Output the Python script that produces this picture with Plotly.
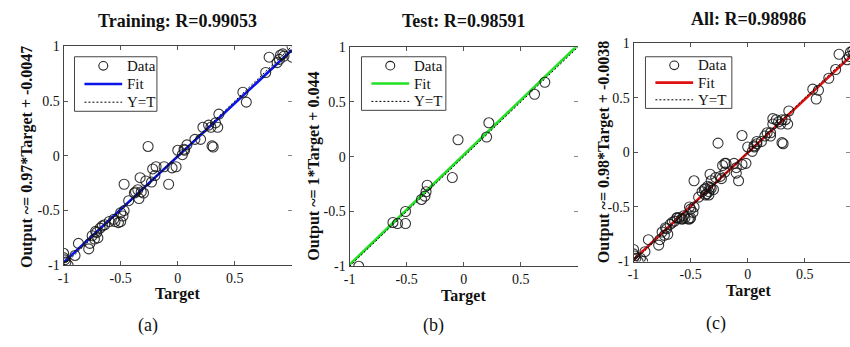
import plotly.graph_objects as go

# ---------------- data ----------------
train_target = [-1.00, -1.00, -0.98, -0.96, -0.99, -0.90, -0.87, -0.78, -0.77, -0.75, -0.72, -0.70,
                -0.68, -0.66, -0.64, -0.60, -0.55, -0.52, -0.50, -0.48, -0.47, -0.50, -0.47, -0.43,
                -0.38, -0.35, -0.34, -0.33, -0.32, -0.30, -0.28, -0.26, -0.22, -0.20, -0.19, -0.12,
                -0.08, -0.05, 0.00, 0.04, 0.06, 0.08, 0.15, 0.20, 0.22, 0.27, 0.29, 0.30, 0.31,
                0.33, 0.35, 0.36, 0.57, 0.60, 0.77, 0.80, 0.87, 0.89, 0.90, 0.92, 0.93, 1.00, 1.00,
                -0.73, -0.71, -0.56, -0.015, 0.055, -0.37, -0.23]
train_output = [-0.89, -0.93, -0.97, -1.00, -0.95, -0.91, -0.80, -0.85, -0.80, -0.73, -0.69, -0.75,
                -0.66, -0.64, -0.63, -0.60, -0.60, -0.61, -0.60, -0.55, -0.50, -0.52, -0.26, -0.41,
                -0.34, -0.31, -0.39, -0.20, -0.33, -0.34, -0.23, 0.085, -0.12, -0.18, -0.10, -0.10,
                -0.26, -0.11, 0.05, 0.01, 0.05, 0.10, 0.15, 0.15, 0.26, 0.28, 0.26, 0.09, 0.08,
                0.30, 0.26, 0.38, 0.58, 0.49, 0.76, 0.90, 0.85, 0.88, 0.92, 0.93, 0.91, 1.00, 0.90,
                -0.76, -0.70, -0.58, -0.10, 0.06, -0.33, -0.24]

test_target = [0.71, 0.62, 0.22, 0.20, -0.05, -0.10, -0.32, -0.33, -0.34, -0.37, -0.51, -0.51,
               -0.62, -0.58, -0.92]
test_output = [0.68, 0.57, 0.31, 0.18, 0.155, -0.19, -0.26, -0.32, -0.36, -0.39, -0.50, -0.61,
               -0.60, -0.61, -1.00]

val_target = [-0.94, -0.62, -0.57, -0.40, -0.36, -0.24, -0.20, -0.10, 0.08, 0.12, 0.17, 0.25, 0.30]
val_output = [-0.97, -0.60, -0.61, -0.36, -0.38, -0.22, -0.10, -0.14, 0.08, 0.10, 0.18, 0.30, 0.30]

all_target = train_target + test_target + val_target
all_output = train_output + test_output + val_output

# fit-line end points (from the fitted equations in the axis labels)
fit_x = [-1.0, 1.0]
fit_train_y = [-0.9747, 0.9653]
fit_test_y = [-0.985, 1.02]
fit_all_y = [-0.9838, 0.9762]
yt_x = [-1.0, 1.0]
yt_y = [-1.0, 1.0]

tick_vals = [-1, -0.5, 0, 0.5, 1]
x_tick_text = ['-1', '-0.5', '0', '0.5', '']
y_tick_text = ['-1', '-0.5', '0', '0.5', '1']

titles = ['Training: R=0.99053', 'Test: R=0.98591', 'All: R=0.98986']
ylabels = ['Output ~= 0.97*Target + -0.0047', 'Output ~= 1*Target + 0.044',
           'Output ~= 0.98*Target + -0.0038']
panel_tags = ['(a)', '(b)', '(c)']
legend_labels = ['Data', 'Fit', 'Y=T']
fit_colors = ['#0a14e6', '#22e022', '#e01010']

# ---------------- layout geometry (pixels) ----------------
W, H = 850, 347
SERIF = 'Liberation Serif'

panels = [
    dict(x0=58, x1=288, y_top=41, y_bot=270, xr=[-1, 1]),
    dict(x0=346, x1=576, y_top=42, y_bot=271, xr=[-1, 1]),
    dict(x0=632, x1=850, y_top=38, y_bot=266, xr=[-1, 0.896]),
]
title_pos = [(173, 15), (461, 15), (748, 13)]
xlab_pos = [(173, 300), (461, 302), (748, 297)]
ylab_pos = [(21, 157), (310, 166), (603, 152)]
tag_pos = [(143, 333), (431, 333), (715, 331)]
legend_box = [(69, 52, 152, 109), (358, 52, 443, 108), (644, 52, 731, 106)]


def px(x):
    return x / W


def py(y):
    return 1 - y / H


fig = go.Figure()

series = [
    (train_target, train_output, fit_train_y),
    (test_target, test_output, fit_test_y),
    (all_target, all_output, fit_all_y),
]

for i, (tx, ty, fy) in enumerate(series):
    n = i + 1
    xa = 'x' if n == 1 else f'x{n}'
    ya = 'y' if n == 1 else f'y{n}'
    ya_over = f'y{n + 3}'
    fig.add_trace(go.Scatter(x=fit_x, y=fy, mode='lines', name='Fit', showlegend=False,
                             line=dict(color=fit_colors[i], width=2.6),
                             xaxis=xa, yaxis=ya))
    fig.add_trace(go.Scatter(x=yt_x, y=yt_y, mode='lines', name='Y=T', showlegend=False,
                             line=dict(color='black', width=1, dash='2px,2px'),
                             xaxis=xa, yaxis=ya_over))
    fig.add_trace(go.Scatter(x=tx, y=ty, mode='markers', name='Data', showlegend=False,
                             marker=dict(symbol='circle-open', size=10,
                                         color='rgba(20,20,20,0.85)',
                                         line=dict(width=1.1)),
                             xaxis=xa, yaxis=ya))

layout = dict(width=W, height=H, margin=dict(l=0, r=0, t=0, b=0),
              paper_bgcolor='white', plot_bgcolor='white', showlegend=False,
              font=dict(family=SERIF, color='#111'))

axis_common = dict(ticks='inside', ticklen=4, tickcolor='#555', showgrid=False,
                   zeroline=False, tickvals=tick_vals,
                   tickfont=dict(family=SERIF, size=14, color='#111'))

annotations = []
shapes = []
for i, p in enumerate(panels):
    n = i + 1
    xk = 'xaxis' if n == 1 else f'xaxis{n}'
    yk = 'yaxis' if n == 1 else f'yaxis{n}'
    yo = f'yaxis{n + 3}'
    xa = 'x' if n == 1 else f'x{n}'
    ya = 'y' if n == 1 else f'y{n}'
    layout[xk] = dict(axis_common, domain=[px(p['x0']), min(1, px(p['x1']))], range=p['xr'],
                      anchor=ya, ticktext=x_tick_text, showline=True, linecolor='#444',
                      linewidth=1, mirror='ticks')
    layout[yk] = dict(axis_common, domain=[py(p['y_bot']), py(p['y_top'])], range=[-1, 1],
                      anchor=xa, ticktext=y_tick_text, showline=True, linecolor='#444',
                      linewidth=1, mirror=False)
    layout[yo] = dict(axis_common, range=[-1, 1], overlaying=ya, side='right', anchor=xa,
                      showticklabels=False, showline=False, tickcolor='#888')

    # ---- legend box (MATLAB style) ----
    bx0, by0, bx1, by1 = legend_box[i]
    shapes.append(dict(type='rect', xref='paper', yref='paper', x0=px(bx0), x1=px(bx1),
                       y0=py(by1), y1=py(by0), line=dict(color='#444', width=1),
                       fillcolor='white', layer='above'))
    row_h = (by1 - by0) / 3.0
    rows = [by0 + row_h * (k + 0.5) for k in range(3)]
    # Data marker
    cx, cy, r = bx0 + 29, rows[0], 4.5
    shapes.append(dict(type='circle', xref='paper', yref='paper', x0=px(cx - r), x1=px(cx + r),
                       y0=py(cy + r), y1=py(cy - r), line=dict(color='#222', width=1.1),
                       layer='above'))
    # Fit line
    shapes.append(dict(type='line', xref='paper', yref='paper', x0=px(bx0 + 10), x1=px(bx0 + 48),
                       y0=py(rows[1]), y1=py(rows[1]),
                       line=dict(color=fit_colors[i], width=2.6), layer='above'))
    # Y=T dotted line
    shapes.append(dict(type='line', xref='paper', yref='paper', x0=px(bx0 + 10), x1=px(bx0 + 48),
                       y0=py(rows[2]), y1=py(rows[2]),
                       line=dict(color='black', width=1, dash='2px,2px'), layer='above'))
    for k in range(3):
        annotations.append(dict(text=legend_labels[k], x=px(bx0 + 51), y=py(rows[k]),
                                xref='paper', yref='paper', showarrow=False,
                                xanchor='left', yanchor='middle',
                                font=dict(family=SERIF, size=15, color='#111')))

    tx_, ty_ = title_pos[i]
    annotations.append(dict(text=f'<b>{titles[i]}</b>', x=px(tx_), y=py(ty_), xref='paper',
                            yref='paper', showarrow=False, xanchor='center', yanchor='middle',
                            font=dict(family=SERIF, size=18, color='#111')))
    lx_, ly_ = xlab_pos[i]
    annotations.append(dict(text='<b>Target</b>', x=px(lx_), y=py(ly_), xref='paper',
                            yref='paper', showarrow=False, xanchor='center', yanchor='middle',
                            font=dict(family=SERIF, size=16, color='#111')))
    yx_, yy_ = ylab_pos[i]
    annotations.append(dict(text=f'<b>{ylabels[i]}</b>', x=px(yx_), y=py(yy_), xref='paper',
                            yref='paper', showarrow=False, xanchor='center', yanchor='middle',
                            textangle=-90, font=dict(family=SERIF, size=16, color='#111')))
    gx_, gy_ = tag_pos[i]
    annotations.append(dict(text=panel_tags[i], x=px(gx_), y=py(gy_), xref='paper',
                            yref='paper', showarrow=False, xanchor='center', yanchor='middle',
                            font=dict(family=SERIF, size=18, color='#111')))

layout['annotations'] = annotations
layout['shapes'] = shapes
fig.update_layout(**layout)
fig.write_html('out.html')
